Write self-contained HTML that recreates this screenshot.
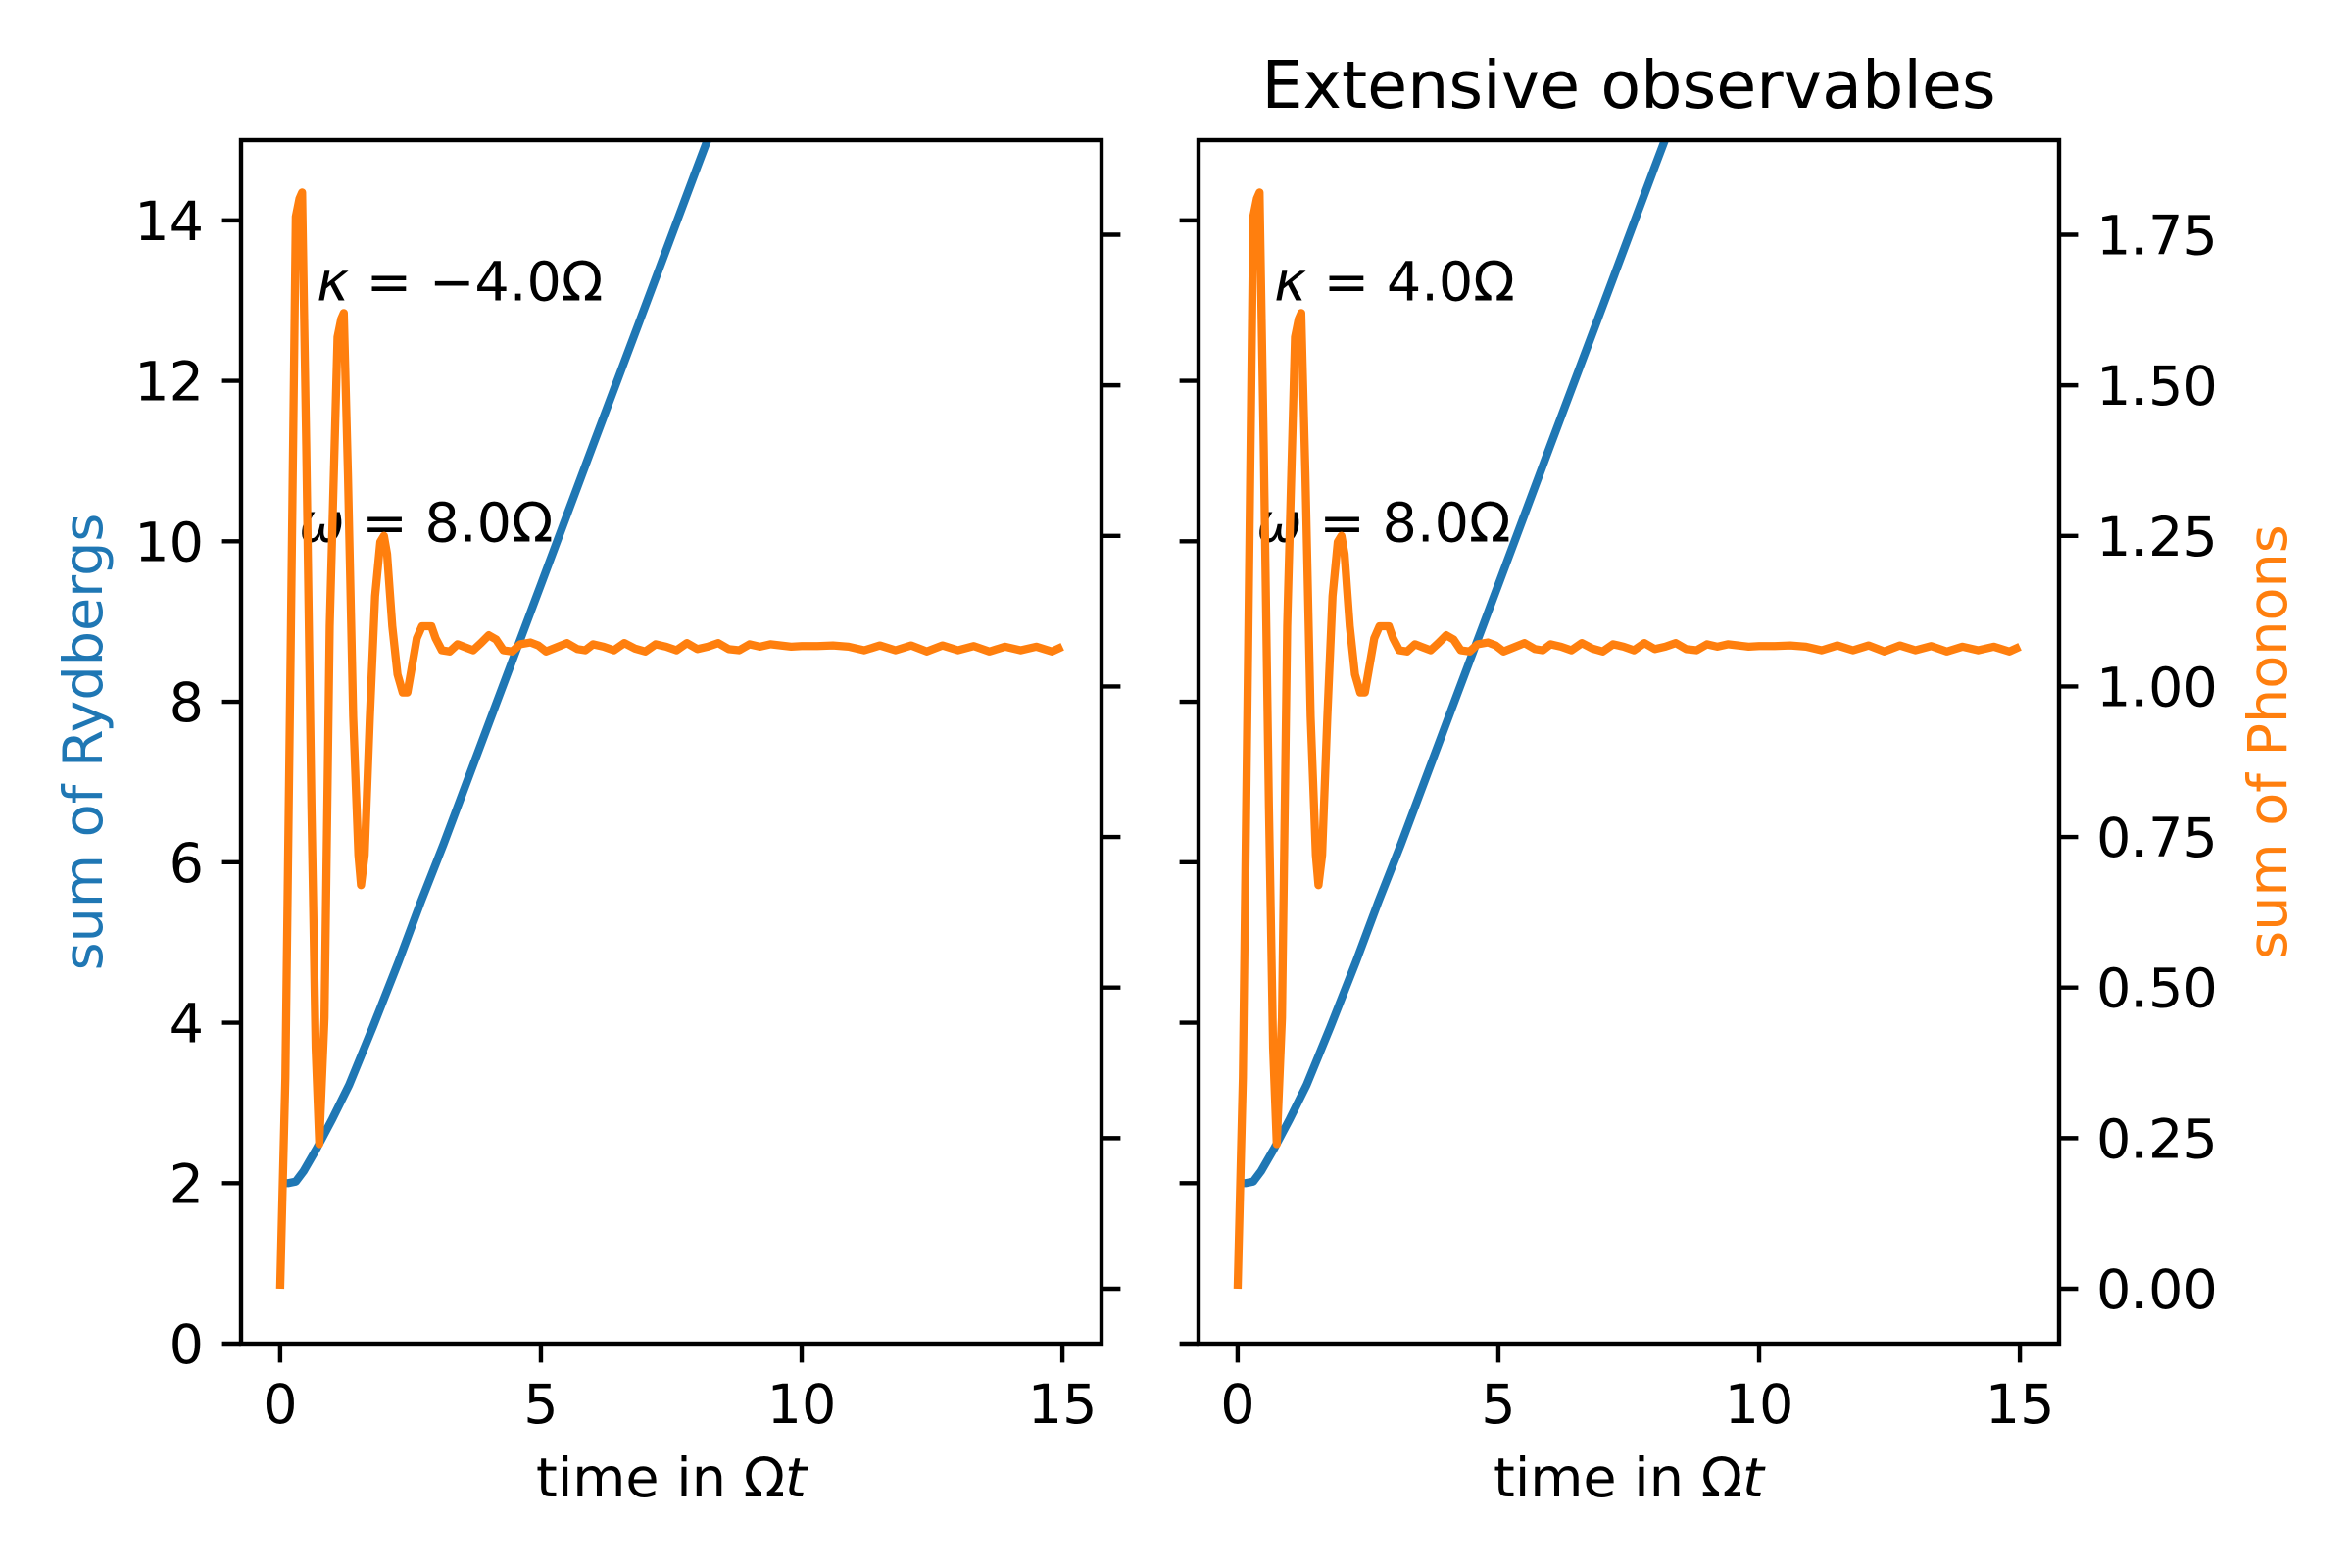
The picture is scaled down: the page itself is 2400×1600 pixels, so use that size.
<!DOCTYPE html>
<html><head><meta charset="utf-8"><style>
html,body{margin:0;padding:0;background:#fff}
svg{display:block;font-family:"DejaVu Sans","Liberation Sans",sans-serif}
</style></head><body>
<svg id="fig" width="2400" height="1600" viewBox="0 0 2400 1600" xmlns="http://www.w3.org/2000/svg">
<rect width="2400" height="1600" fill="#fff"/>
<defs>
<clipPath id="clipL"><rect x="246" y="143" width="878" height="1228"/></clipPath>
<clipPath id="clipR"><rect x="1223" y="143" width="878" height="1228"/></clipPath>
</defs>
<g id="root"></g>
</svg>
<script>
const xTicks = [0, 5, 10, 15];
const yLeftTicks = [0, 2, 4, 6, 8, 10, 12, 14];
const yRightTicks = [0, 0.25, 0.5, 0.75, 1.0, 1.25, 1.5, 1.75];
const yRightLabels = ["0.00","0.25","0.50","0.75","1.00","1.25","1.50","1.75"];
const rydT = [0,0.15,0.3,0.45,0.69,1.0,1.32,1.78,2.27,2.7,3.13,4.0,5.0,6.0,7.0,8.0,8.6];
const rydV = [2,2,2.02,2.15,2.42,2.8,3.22,3.95,4.76,5.51,6.22,7.73,9.46,11.2,12.93,14.67,15.7];
const phT = [0,0.1,0.2,0.3,0.37,0.42,0.5,0.6,0.68,0.75,0.85,0.95,1.1,1.17,1.22,1.3,1.4,1.5,1.55,1.62,1.72,1.82,1.92,1.99,2.05,2.15,2.25,2.35,2.44,2.52,2.62,2.72,2.82,2.9,2.98,3.1,3.25,3.4,3.55,3.7,3.85,4.0,4.14,4.28,4.45,4.6,4.8,4.95,5.1,5.3,5.5,5.7,5.85,6.0,6.2,6.4,6.6,6.8,7.0,7.2,7.4,7.6,7.8,8.0,8.2,8.4,8.6,8.8,9.0,9.2,9.4,9.6,9.8,10.0,10.3,10.6,10.9,11.2,11.5,11.8,12.1,12.4,12.7,13.0,13.3,13.6,13.9,14.2,14.5,14.8,15.0];
const phV = [0,0.35,1.05,1.78,1.81,1.82,1.4,0.8,0.4,0.24,0.45,1.1,1.58,1.61,1.62,1.35,0.95,0.72,0.67,0.72,0.95,1.15,1.24,1.25,1.22,1.1,1.02,0.99,0.99,1.03,1.08,1.1,1.1,1.1,1.08,1.06,1.058,1.07,1.065,1.06,1.072,1.085,1.078,1.06,1.058,1.07,1.073,1.068,1.058,1.065,1.072,1.062,1.06,1.07,1.066,1.06,1.072,1.063,1.058,1.07,1.066,1.06,1.072,1.062,1.066,1.072,1.062,1.06,1.07,1.066,1.07,1.068,1.066,1.067,1.067,1.068,1.066,1.06,1.068,1.06,1.068,1.058,1.068,1.06,1.067,1.058,1.066,1.06,1.066,1.058,1.066];

const NS="http://www.w3.org/2000/svg";
const root=document.getElementById('root');
const top_=143, bot=1371, W=878;
const FS=55.6, SW=4.4, TL=19.4, LW=8.3;
function el(tag, attrs, parent){const e=document.createElementNS(NS,tag);for(const k in attrs)e.setAttribute(k,attrs[k]);(parent||root).appendChild(e);return e;}
const yL=v=>bot-(v/15)*(bot-top_);
const yR=v=>bot-((v+0.0911)/(1.907+0.0911))*(bot-top_);

function panel(x0, side, kappa){
  const x1=x0+W;
  const X=t=>x0+((t+0.75)/16.5)*W;
  const g=el('g',{});
  
  
  const k=el('text',{x:X(0.7),y:yL(13.0),'font-size':FS,fill:'#000'},g);
  
  
  k.innerHTML='<tspan font-style="italic">κ</tspan> = '+kappa+'Ω';
  const w=el('text',{x:X(0.36),y:yL(10.0),'font-size':FS,fill:'#000'},g);
  
  
  w.innerHTML='<tspan font-style="italic">ω</tspan> = 8.0Ω';
  const cg=el('g',{'clip-path':'url(#clip'+(side==='left'?'L':'R')+')'},g);
  const bp=el('polyline',{points:rydT.map((t,i)=>X(t)+','+yL(rydV[i])).join(' '),fill:'none',stroke:'#1f77b4','stroke-width':LW,'stroke-linejoin':'round'},cg);
  
  
  const op=el('polyline',{points:phT.map((t,i)=>X(t)+','+yR(phV[i])).join(' '),fill:'none',stroke:'#ff7f0e','stroke-width':LW,'stroke-linejoin':'round'},cg);
  
  
  const fr=el('rect',{x:x0,y:top_,width:W,height:bot-top_,fill:'none',stroke:'#000','stroke-width':SW},g);
  
  
  xTicks.forEach(t=>{
    el('line',{x1:X(t),x2:X(t),y1:bot,y2:bot+TL,stroke:'#000','stroke-width':SW},g);
    const tl=el('text',{x:X(t),y:1452,'font-size':FS,'text-anchor':'middle',fill:'#000'},g);
    
    
    tl.textContent=t;
  });
  const xl=el('text',{x:x0+W/2,y:1527,'font-size':FS,'text-anchor':'middle',fill:'#000'},g);
  
  
  xl.innerHTML='time in Ω<tspan font-style="italic">t</tspan>';
  yLeftTicks.forEach(v=>{
    el('line',{x1:x0-TL,x2:x0,y1:yL(v),y2:yL(v),stroke:'#000','stroke-width':SW},g);
    if(side==='left'){
      const tl=el('text',{x:x0-38,y:yL(v)+20,'font-size':FS,'text-anchor':'end',fill:'#000'},g);
      
      
      tl.textContent=v;
    }
  });
  yRightTicks.forEach((v,i)=>{
    el('line',{x1:x1,x2:x1+TL,y1:yR(v),y2:yR(v),stroke:'#000','stroke-width':SW},g);
    if(side==='right'){
      const tl=el('text',{x:x1+38,y:yR(v)+20,'font-size':FS,fill:'#000'},g);
      
      
      tl.textContent=yRightLabels[i];
    }
  });
}
panel(246,'left','−4.0');
panel(1223,'right','4.0');

const yl=el('text',{x:0,y:0,'font-size':FS,'text-anchor':'middle',fill:'#1f77b4',transform:'translate(104,757) rotate(-90)'});


yl.textContent='sum of Rydbergs';
const yr=el('text',{x:0,y:0,'font-size':FS,'text-anchor':'middle',fill:'#ff7f0e',transform:'translate(2333,757) rotate(-90)'});


yr.textContent='sum of Phonons';
const ti=el('text',{x:1662,y:110,'font-size':66.7,'text-anchor':'middle',fill:'#000'});


ti.textContent='Extensive observables';
</script>
</body></html>
